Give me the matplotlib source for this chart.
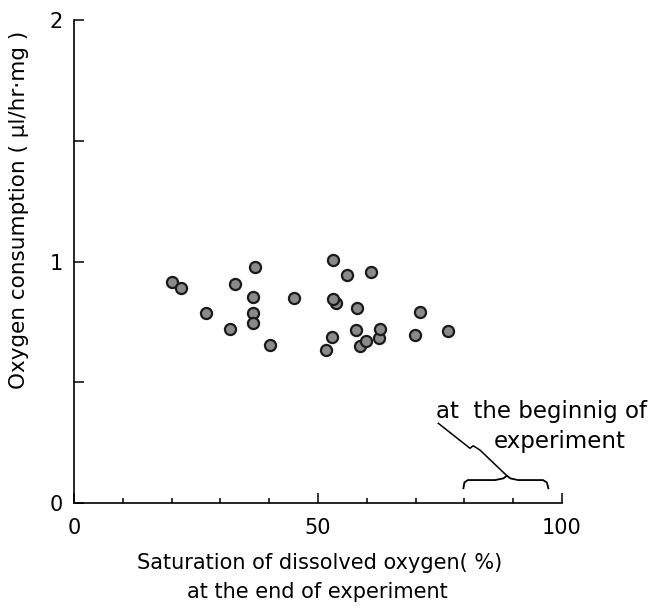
import numpy as np
import matplotlib
matplotlib.use('Agg')
import matplotlib.pyplot as plt
from matplotlib.ticker import MultipleLocator

# saturation of dissolved oxygen (%) at the end of the experiment
sat = [20.0, 21.9, 27.1, 31.9, 33.0, 37.0, 36.7, 36.6, 36.6, 40.1,
       45.0, 53.0, 56.0, 60.9, 53.0, 58.0, 57.7, 52.9, 51.7, 59.9,
       62.8, 70.9, 69.9, 76.6]
# oxygen consumption (ul/hr.mg)
o2 = [0.916, 0.891, 0.785, 0.722, 0.908, 0.976, 0.851, 0.788, 0.747, 0.654,
      0.847, 1.005, 0.945, 0.957, 0.843, 0.806, 0.715, 0.686, 0.632, 0.672,
      0.719, 0.792, 0.695, 0.711]

# points mostly hidden behind others
sat_hidden = [53.7, 58.7, 62.6]
o2_hidden = [0.83, 0.65, 0.685]

# curly brace + leader marking the start of experiment
brace_x = [79.8, 80.0, 80.7, 86.3, 88.0, 88.7, 89.4, 91.0, 96.1, 96.9, 97.2]
brace_y = [0.061, 0.085, 0.095, 0.095, 0.102, 0.113, 0.102, 0.095, 0.095, 0.085, 0.061]
lead_x = [74.65, 81.15, 81.8, 83.2, 88.7]
lead_y = [0.330, 0.2265, 0.237, 0.219, 0.113]

plt.rcParams['font.family'] = ['DejaVu Sans']

fig = plt.figure(figsize=(6.57, 6.13), dpi=100)
ax = fig.add_axes([74/657, 1 - 503/613, (562 - 74)/657, (503 - 20)/613])

ax.plot(sat_hidden, o2_hidden, 'o', ms=8, mfc='#8a8a8a', mec='#1a1a1a', mew=1.6, zorder=2)
ax.plot(sat, o2, 'o', ms=8, mfc='#8a8a8a', mec='#1a1a1a', mew=1.6, zorder=3)

ax.plot(brace_x, brace_y, '-', color='black', lw=1.3, clip_on=False)
ax.plot(lead_x, lead_y, '-', color='black', lw=1.1, clip_on=False)
ax.text(95.7, 0.377, 'at  the beginnig of', fontsize=16.5, ha='center', va='center')
ax.text(99.6, 0.254, 'experiment', fontsize=16.5, ha='center', va='center')

ax.set_xlim(0, 100)
ax.set_ylim(0, 2)
ax.spines['top'].set_visible(False)
ax.spines['right'].set_visible(False)
for s in ['left', 'bottom']:
    ax.spines[s].set_linewidth(1.2)

ax.set_xticks([0, 50, 100])
ax.xaxis.set_minor_locator(MultipleLocator(10))
ax.set_yticks([0, 1, 2])
ax.yaxis.set_minor_locator(MultipleLocator(0.5))
ax.tick_params(axis='x', which='major', direction='in', length=7, width=1.1,
               labelsize=15, pad=11)
ax.tick_params(axis='x', which='minor', direction='in', length=3.5, width=1.1)
ax.tick_params(axis='y', which='both', direction='in', length=7, width=1.1,
               labelsize=15, pad=8)

fig.text(320/657, 1 - 563/613, 'Saturation of dissolved oxygen( %)',
         fontsize=15, ha='center', va='center')
fig.text(317/657, 1 - 592/613, 'at the end of experiment',
         fontsize=15, ha='center', va='center')
fig.text(19/657, 1 - 210/613, 'Oxygen consumption ( \u03bcl/hr\u00b7mg )',
         fontsize=15.5, ha='center', va='center', rotation=90)

plt.savefig('out.png', dpi=100)
